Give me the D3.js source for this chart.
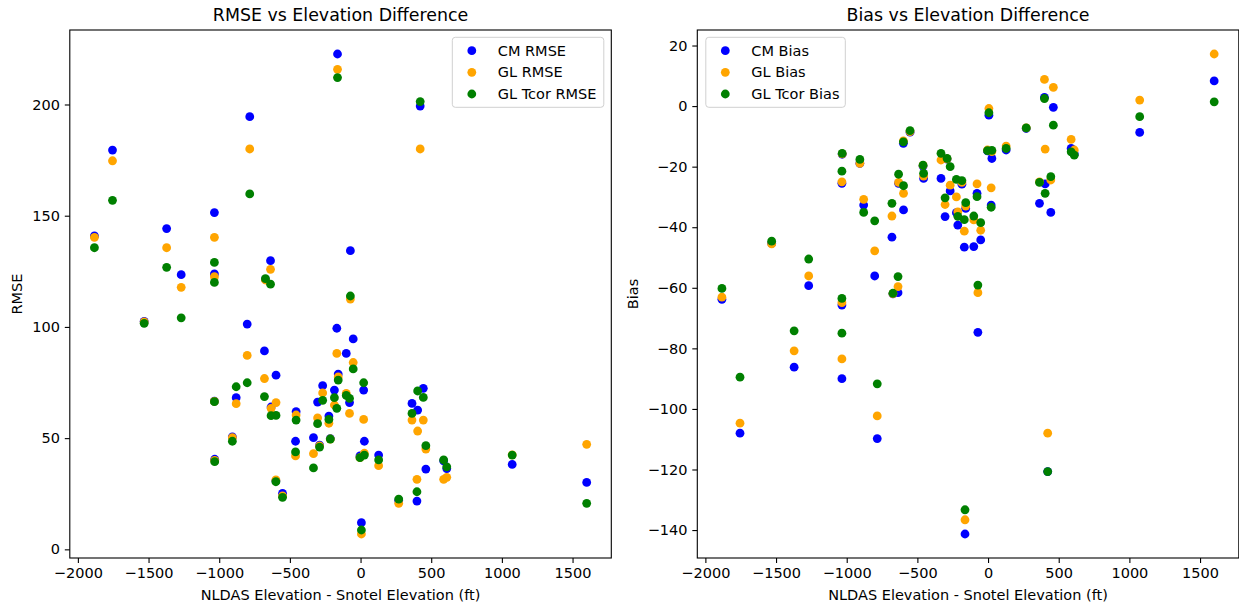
<!DOCTYPE html>
<html><head><meta charset="utf-8">
<script src="https://cdn.jsdelivr.net/npm/d3@7"></script>
<style>
body{margin:0;background:#fff}
svg{display:block}
text{font-family:"DejaVu Sans",sans-serif;fill:#000}
</style>
</head><body>
<svg id="chart" width="1239" height="607"></svg>
<script>
// Elevation difference (NLDAS - Snotel, ft), one entry per station
const elevDiff = [-1883,-1755,-1531,-1372,-1269,-1034,-1034,-1034,-1032,-907,-880,-802,-784,-680,-673,-637,-633,-599,-598,-552,-456,-460,-333,-290,-214,-304,-268,-224,-185,-163,-168,-158,-101,-52,-72,-78,22,128,6,27,-4,270,399,364,404,444,462,588,610,1073,1600,422];

const cmRmse = [140.9,179.5,102.5,144.2,123.5,151.4,123.8,66.6,40.5,50.6,68.2,101.3,194.5,89.2,121.4,129.8,64.0,30.8,78.3,25.2,61.9,48.6,50.2,46.9,49.8,66.2,73.6,59.9,71.6,222.7,99.4,78.8,88.1,94.6,134.3,66.0,71.6,42.4,12.0,48.6,42.0,22.0,21.7,65.6,62.6,72.4,36.1,39.8,36.3,38.2,30.1,199.3];
const glRmse = [140.3,174.7,102.3,135.6,117.8,140.3,122.6,66.5,40.0,50.2,65.5,87.2,180.0,76.8,121.1,125.9,63.4,31.2,66.0,24.0,60.4,42.0,43.0,46.5,49.6,59.1,70.3,56.7,64.9,215.8,88.1,77.5,70.1,84.0,112.5,61.1,58.4,37.6,6.9,43.2,41.2,20.7,31.5,58.1,53.2,58.1,45.1,31.5,32.4,42.5,47.2,180.0];
const tcRmse = [135.6,156.9,101.6,126.8,104.1,129.0,120.0,66.4,39.4,48.6,73.1,74.9,159.8,68.7,121.7,119.2,60.1,30.4,60.2,23.4,58.1,43.8,36.6,46.0,49.6,56.5,67.0,58.4,68.2,212.1,63.4,76.1,69.2,81.1,113.9,67.9,74.9,40.2,8.7,42.4,41.2,22.6,25.9,61.1,71.2,68.3,46.6,40.2,37.1,42.4,20.7,201.3];

const cmBias = [-63.8,-108.0,-45.3,-86.2,-59.3,-90.0,-65.7,-25.5,-15.9,-18.9,-32.7,-56.1,-109.8,-43.3,-62.0,-61.6,-25.5,-12.3,-34.3,-8.6,-23.9,-19.8,-23.9,-17.5,-39.3,-36.5,-28.0,-35.2,-25.8,-141.3,-46.6,-33.8,-46.4,-44.2,-74.7,-28.8,-32.7,-14.5,-3.0,-17.3,-14.8,-7.4,2.9,-32.1,-25.7,-35.1,-0.4,-14.0,-15.8,-8.7,8.3,-120.7];
const glBias = [-63.1,-104.7,-45.5,-80.8,-56.1,-83.5,-64.9,-25.0,-15.8,-18.9,-30.8,-47.8,-102.3,-36.3,-61.9,-59.6,-25.2,-11.5,-28.8,-8.4,-23.1,-19.6,-17.8,-17.4,-34.9,-32.5,-26.1,-30.0,-25.2,-136.6,-41.3,-33.0,-37.6,-41.0,-61.6,-25.7,-27.0,-13.2,-0.8,-15.0,-14.5,-7.2,8.8,-25.0,-14.2,-24.4,6.2,-11.0,-14.5,2.0,17.2,-108.0];
const tcBias = [-60.2,-89.5,-44.6,-74.2,-50.5,-75.0,-63.5,-21.5,-15.6,-17.6,-35.1,-37.9,-91.7,-32.1,-61.8,-56.3,-22.5,-11.8,-26.3,-8.1,-22.2,-19.5,-15.6,-17.3,-36.4,-30.3,-20.0,-24.2,-24.6,-133.3,-37.5,-31.9,-36.3,-38.5,-59.1,-29.9,-33.4,-14.0,-2.2,-14.6,-14.7,-7.2,2.5,-25.2,-28.8,-23.3,-6.3,-15.1,-16.2,-3.5,1.4,-120.7];

const xTicks = [-2000,-1500,-1000,-500,0,500,1000,1500];
const rmseTicks = [0,50,100,150,200];
const biasTicks = [-140,-120,-100,-80,-60,-40,-20,0,20];
const rmseLabels = ["CM RMSE","GL RMSE","GL Tcor RMSE"];
const biasLabels = ["CM Bias","GL Bias","GL Tcor Bias"];
const seriesColors = ["blue","orange","green"];

const svg = d3.select("#chart");
const FS = 14.5;
const fmt = d3.format("d");

function padDomain(vals){
  const mn = d3.min(vals), mx = d3.max(vals), r = mx - mn;
  return [mn - 0.05*r, mx + 0.05*r];
}

function panel(cfg){
  const {left, top, width, height, series, yTicks, title, ylabel, labels, legendSide, ylabelX} = cfg;
  const g = svg.append("g");
  const x = d3.scaleLinear().domain(padDomain(elevDiff)).range([left, left+width]);
  const y = d3.scaleLinear().domain(padDomain(series.flat())).range([top+height, top]);

  series.forEach((vals, si) => {
    g.append("g").selectAll("circle").data(vals).join("circle")
      .attr("cx", (d,i) => x(elevDiff[i]))
      .attr("cy", d => y(d))
      .attr("r", 4.4)
      .attr("fill", seriesColors[si]);
  });

  const xa = g.append("g").attr("transform", `translate(0,${top+height})`)
    .call(d3.axisBottom(x).tickValues(xTicks).tickFormat(fmt).tickSize(5).tickPadding(4.8).tickSizeOuter(0));
  const ya = g.append("g").attr("transform", `translate(${left},0)`)
    .call(d3.axisLeft(y).tickValues(yTicks).tickFormat(fmt).tickSize(5).tickPadding(4.8).tickSizeOuter(0));
  [xa, ya].forEach(a => {
    a.select(".domain").remove();
    a.selectAll("line").attr("stroke","#000").attr("stroke-width",1.1);
    a.selectAll("text").attr("font-size", FS).attr("font-family","DejaVu Sans").attr("fill","#000");
  });

  g.append("rect").attr("x", left).attr("y", top).attr("width", width).attr("height", height)
    .attr("fill","none").attr("stroke","#000").attr("stroke-width",1.1);

  g.append("text").attr("x", left+width/2).attr("y", top-9).attr("text-anchor","middle")
    .attr("font-size",17.4).text(title);
  g.append("text").attr("x", left+width/2).attr("y", 600).attr("text-anchor","middle")
    .attr("font-size",FS).text("NLDAS Elevation - Snotel Elevation (ft)");
  g.append("text").attr("transform", `translate(${ylabelX},${top+height/2}) rotate(-90)`)
    .attr("text-anchor","middle").attr("font-size",FS).text(ylabel);

  const lw = cfg.legendWidth, lh = 70;
  const lx = legendSide === "right" ? left + width - 7.5 - lw : left + 8.5;
  const ly = top + 7.3;
  const lg = g.append("g");
  lg.append("rect").attr("x", lx).attr("y", ly).attr("width", lw).attr("height", lh)
    .attr("rx", 3).attr("fill","#fff").attr("fill-opacity",0.8).attr("stroke","#d0d0d0").attr("stroke-width",1);
  labels.forEach((lab, i) => {
    const cy = ly + 13.4 + i*21.65;
    lg.append("circle").attr("cx", lx + 19.5).attr("cy", cy).attr("r", 4.4).attr("fill", seriesColors[i]);
    lg.append("text").attr("x", lx + 45.5).attr("y", cy).attr("dy","0.35em")
      .attr("font-size",FS).text(lab);
  });
}

panel({left:69.8, top:30, width:541.5, height:528, series:[cmRmse, glRmse, tcRmse],
  yTicks:rmseTicks, title:"RMSE vs Elevation Difference", ylabel:"RMSE", labels:rmseLabels,
  legendSide:"right", legendWidth:151.5, ylabelX:22});
panel({left:697.3, top:30, width:541.5, height:528, series:[cmBias, glBias, tcBias],
  yTicks:biasTicks, title:"Bias vs Elevation Difference", ylabel:"Bias", labels:biasLabels,
  legendSide:"left", legendWidth:139.5, ylabelX:638});
</script>
</body></html>
